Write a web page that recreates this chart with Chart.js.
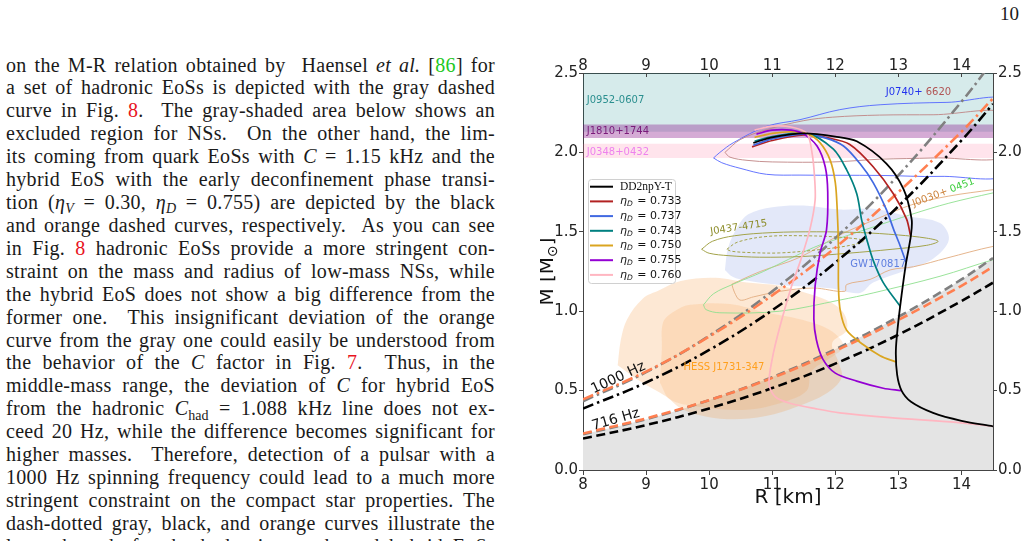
<!DOCTYPE html>
<html>
<head>
<meta charset="utf-8">
<script src="https://cdn.jsdelivr.net/npm/chart.js@4.4.1/dist/chart.umd.min.js"></script>
<style>
html, body { margin: 0; padding: 0; background: #fff; }
body { width: 1028px; height: 541px; position: relative; overflow: hidden; }
#text { position: absolute; left: 6px; top: 53.5px; width: 489px; font-family: "Liberation Serif", "DejaVu Serif", serif; font-size: 20px; letter-spacing: 0.3px; color: #1a1a1a; }
#text .ln { height: 22.93px; line-height: 22.93px; text-align: justify; text-align-last: justify; white-space: nowrap; }
#text sub { font-size: 0.7em; line-height: 0; vertical-align: baseline; position: relative; top: 0.3em; letter-spacing: 0; }
.g { color: #1ec81e; }
.r { color: #e8141e; }
#pageno { position: absolute; left: 1000px; top: 3px; font: 19px "Liberation Serif", serif; color: #1a1a1a; }
#fig { position: absolute; left: 540px; top: 48px; width: 488px; height: 493px; }
</style>
</head>
<body>
<div id="pageno">10</div>
<div id="text">
  <div class="ln">on the M-R relation obtained by&nbsp; Haensel <i>et al.</i> [<span class="g">86</span>] for</div>
  <div class="ln">a set of hadronic EoSs is depicted with the gray dashed</div>
  <div class="ln">curve in Fig. <span class="r">8</span>.&nbsp; The gray-shaded area below shows an</div>
  <div class="ln">excluded region for NSs.&nbsp; On the other hand, the lim-</div>
  <div class="ln">its coming from quark EoSs with <i>C</i> = 1.15 kHz and the</div>
  <div class="ln">hybrid EoS with the early deconfinement phase transi-</div>
  <div class="ln">tion (<i>η</i><sub><i>V</i></sub> = 0.30, <i>η</i><sub><i>D</i></sub> = 0.755) are depicted by the black</div>
  <div class="ln">and orange dashed curves, respectively.&nbsp; As you can see</div>
  <div class="ln">in Fig. <span class="r">8</span> hadronic EoSs provide a more stringent con-</div>
  <div class="ln">straint on the mass and radius of low-mass NSs, while</div>
  <div class="ln">the hybrid EoS does not show a big difference from the</div>
  <div class="ln">former one.&nbsp; This insignificant deviation of the orange</div>
  <div class="ln">curve from the gray one could easily be understood from</div>
  <div class="ln">the behavior of the <i>C</i> factor in Fig. <span class="r">7</span>.&nbsp; Thus, in the</div>
  <div class="ln">middle-mass range, the deviation of <i>C</i> for hybrid EoS</div>
  <div class="ln">from the hadronic <i>C</i><sub>had</sub> = 1.088 kHz line does not ex-</div>
  <div class="ln">ceed 20 Hz, while the difference becomes significant for</div>
  <div class="ln">higher masses.&nbsp; Therefore, detection of a pulsar with a</div>
  <div class="ln">1000 Hz spinning frequency could lead to a much more</div>
  <div class="ln">stringent constraint on the compact star properties. The</div>
  <div class="ln">dash-dotted gray, black, and orange curves illustrate the</div>
  <div class="ln">lower bounds for the hadronic, quark, and hybrid EoSs</div>
</div>
<div id="fig"><canvas id="mr"></canvas></div>

<script>
// axis ticks
const xTicks = [8, 9, 10, 11, 12, 13, 14];
const yTicks = [0, 0.5, 1.0, 1.5, 2.0, 2.5];

// pulsar mass bands [M_sun]
const bandNames = ['J0952-0607', 'J1810+1744', 'J0348+0432'];
const bandLo = [2.13, 2.09, 1.965];
const bandHi = [2.5, 2.175, 2.055];

// spin limits: mass read at these radii
const limitR = [8, 9, 10, 11, 12, 13, 14, 14.5];
const had716 = [0.225, 0.320, 0.440, 0.585, 0.760, 0.965, 1.200, 1.335];
const hyb716 = [0.230, 0.325, 0.440, 0.580, 0.750, 0.945, 1.160, 1.280];
const qrk716 = [0.198, 0.283, 0.388, 0.516, 0.670, 0.852, 1.064, 1.180];
const had1000 = [0.433, 0.616, 0.845, 1.125, 1.460, 1.856, 2.319, 2.576];
const hyb1000 = [0.445, 0.620, 0.840, 1.100, 1.400, 1.750, 2.130, 2.340];
const qrk1000 = [0.387, 0.551, 0.756, 1.006, 1.306, 1.661, 2.075, 2.305];

// M-R curves [R km, M]
const dd2npyT = [[10.70,2.060],[11.00,2.095],[11.50,2.120],[12.00,2.100],[12.34,2.070],[12.81,1.930],[13.08,1.770],[13.21,1.580],[13.20,1.480],[13.12,1.300],[13.05,1.100],[12.99,0.900],[12.96,0.750],[12.98,0.600],[13.05,0.500],[13.20,0.430],[13.55,0.360],[14.00,0.310],[14.50,0.275]];
const eta733 = [[10.68,2.035],[11.00,2.075],[11.50,2.110],[11.90,2.090],[12.23,2.050],[12.60,1.910],[12.92,1.740],[13.13,1.580],[13.19,1.480]];
const eta737 = [[10.70,2.045],[11.00,2.085],[11.50,2.115],[11.85,2.090],[12.13,2.040],[12.39,1.930],[12.60,1.810],[12.81,1.640],[12.92,1.520],[13.02,1.420],[13.12,1.310]];
const eta743 = [[10.72,2.070],[11.00,2.100],[11.55,2.120],[11.97,2.020],[12.18,1.890],[12.34,1.740],[12.42,1.570],[12.50,1.450],[12.60,1.320],[12.76,1.180],[13.03,1.030]];
const eta750 = [[10.72,2.095],[11.00,2.120],[11.30,2.130],[11.55,2.120],[11.76,2.060],[11.92,1.950],[12.00,1.810],[12.03,1.640],[12.05,1.400],[12.05,1.150],[12.08,1.000],[12.18,0.880],[12.44,0.790],[12.71,0.720],[12.96,0.680]];
const eta755 = [[10.75,2.115],[11.00,2.140],[11.30,2.140],[11.50,2.115],[11.71,2.040],[11.84,1.910],[11.88,1.750],[11.86,1.510],[11.76,1.370],[11.68,1.160],[11.66,0.950],[11.70,0.820],[11.80,0.700],[12.00,0.610],[12.34,0.560],[12.76,0.515],[13.04,0.500]];
const eta760 = [[10.72,2.140],[11.00,2.165],[11.30,2.160],[11.55,2.120],[11.63,2.000],[11.67,1.850],[11.68,1.700],[11.60,1.520],[11.45,1.320],[11.30,1.150],[11.12,0.900],[11.00,0.700],[10.95,0.540],[11.05,0.460],[11.28,0.420],[11.70,0.385],[12.07,0.360],[12.87,0.330],[13.92,0.300],[14.50,0.275]];
const etaD = ['0.733', '0.737', '0.743', '0.750', '0.755', '0.760'];

// observational contours / regions [R km, M]
const j0740Outer = [[10.07,1.965],[10.17,2.000],[10.38,2.060],[10.91,2.164],[11.44,2.206],[12.07,2.269],[12.71,2.300],[13.77,2.315],[14.80,2.315],[14.80,1.877],[13.66,1.849],[12.71,1.855],[11.44,1.857],[10.91,1.862],[10.49,1.900],[10.20,1.935],[10.07,1.965]];
const j0740Inner = [[10.25,2.000],[10.49,2.080],[10.91,2.143],[11.50,2.200],[11.96,2.222],[12.70,2.235],[13.55,2.237],[14.80,2.240],[14.80,1.985],[13.55,1.965],[12.70,1.957],[11.96,1.940],[11.00,1.940],[10.60,1.950],[10.33,1.970],[10.25,2.000]];
const j0030Tan = [[10.36,1.170],[10.81,1.250],[11.44,1.340],[12.07,1.480],[12.71,1.590],[13.21,1.670],[13.80,1.725],[14.50,1.765],[14.80,1.780],[14.80,1.420],[14.50,1.408],[13.77,1.335],[13.24,1.280],[12.87,1.260],[12.55,1.200],[12.18,1.168],[12.15,1.125],[11.65,1.146],[11.12,1.125],[10.70,1.090],[10.49,1.070],[10.40,1.120],[10.36,1.170]];
const j0030Green = [[9.91,1.040],[10.07,1.110],[10.38,1.170],[10.86,1.250],[11.65,1.400],[12.07,1.460],[12.60,1.530],[13.21,1.610],[13.80,1.680],[14.50,1.745],[14.80,1.770],[14.80,1.350],[14.50,1.324],[13.66,1.220],[12.60,1.115],[12.07,1.070],[11.12,1.000],[10.17,0.990],[9.95,1.010],[9.91,1.040]];
const j0437Outer = [[9.88,1.390],[10.05,1.440],[10.40,1.475],[11.00,1.495],[11.70,1.500],[12.40,1.495],[13.00,1.480],[13.45,1.460],[13.63,1.440],[13.45,1.415],[12.90,1.390],[12.20,1.365],[11.50,1.345],[10.80,1.340],[10.30,1.350],[10.00,1.365],[9.88,1.390]];
const j0437Inner = [[10.28,1.390],[10.45,1.435],[10.90,1.470],[11.50,1.475],[12.10,1.465],[12.45,1.445],[12.30,1.420],[11.80,1.390],[11.12,1.367],[10.60,1.370],[10.35,1.378],[10.28,1.390]];
const gw170817 = [[10.25,1.260],[10.30,1.400],[10.45,1.530],[10.62,1.610],[11.00,1.655],[11.50,1.665],[12.07,1.640],[12.60,1.645],[13.13,1.600],[13.66,1.555],[13.80,1.450],[13.55,1.330],[13.13,1.260],[12.60,1.180],[12.39,1.115],[11.92,1.145],[11.12,1.165],[10.57,1.195],[10.38,1.215],[10.25,1.260]];
const hessOuter = [[8.55,0.660],[8.60,0.820],[8.70,0.950],[8.95,1.080],[9.20,1.130],[9.55,1.190],[10.10,1.210],[10.60,1.180],[11.12,1.160],[11.50,1.120],[11.86,1.070],[12.13,0.990],[12.18,0.880],[11.95,0.800],[12.05,0.680],[12.10,0.580],[11.85,0.480],[11.40,0.400],[10.90,0.340],[10.30,0.320],[9.80,0.350],[9.54,0.390],[9.33,0.460],[8.90,0.560],[8.55,0.660]];
const hessInner = [[9.22,0.550],[9.25,0.760],[9.27,0.930],[9.45,1.000],[9.70,1.040],[10.33,1.045],[10.91,0.990],[11.44,0.950],[11.92,0.880],[12.13,0.780],[11.90,0.700],[11.62,0.620],[11.55,0.500],[11.20,0.430],[10.60,0.380],[9.80,0.400],[9.38,0.445],[9.22,0.550]];

const xy = a => a.map(p => ({ x: p[0], y: p[1] }));
const onR = m => limitR.map((r, i) => ({ x: r, y: m[i] }));

const datasets = [];
function add(ds, order) {
    datasets.push(Object.assign({ pointRadius: 0, pointHoverRadius: 0, fill: false, tension: 0.35, borderColor: 'rgba(0,0,0,0)', borderWidth: 1, order: order }, ds));
}

// shaded bands and regions (lowest layers)
const bandFill = ['rgba(0,128,128,0.16)', 'rgba(128,0,128,0.33)', 'rgba(255,105,150,0.18)'];
bandNames.forEach((n, i) => {
    add({ label: n, data: [{ x: 8, y: bandHi[i] }, { x: 14.5, y: bandHi[i] }], fill: { value: bandLo[i] }, backgroundColor: bandFill[i], tension: 0 }, 200 - i);
});
add({ label: 'excluded', data: onR(had716), fill: 'origin', backgroundColor: '#e4e4e4', tension: 0.4 }, 190);
add({ label: 'GW170817', data: xy(gw170817), fill: 'shape', backgroundColor: 'rgba(100,130,220,0.18)' }, 180);
add({ label: 'HESS outer', data: xy(hessOuter), fill: 'shape', backgroundColor: 'rgba(245,140,40,0.2)' }, 170);
add({ label: 'HESS inner', data: xy(hessInner), fill: 'shape', backgroundColor: 'rgba(245,140,40,0.15)' }, 169);

// thin contours
add({ label: 'J0740 a', data: xy(j0740Outer), borderColor: '#5566ff', borderWidth: 0.9 }, 150);
add({ label: 'J0740 b', data: xy(j0740Inner), borderColor: '#c08585', borderWidth: 0.9 }, 149);
add({ label: 'J0030 a', data: xy(j0030Tan), borderColor: '#e2ad80', borderWidth: 0.9 }, 148);
add({ label: 'J0030 b', data: xy(j0030Green), borderColor: '#8fe08f', borderWidth: 0.9 }, 147);
add({ label: 'J0437 a', data: xy(j0437Outer), borderColor: '#a3a34a', borderWidth: 1 }, 146);
add({ label: 'J0437 b', data: xy(j0437Inner), borderColor: '#a3a34a', borderWidth: 1, borderDash: [3, 2] }, 145);

// spin-frequency limits
const dashed = [9, 4.5];
const dashDot = [11, 4, 2.5, 4];
add({ label: 'had 716', data: onR(had716), borderColor: '#808080', borderWidth: 2.6, borderDash: dashed, tension: 0.4 }, 130);
add({ label: 'hyb 716', data: onR(hyb716), borderColor: '#ff7f50', borderWidth: 2.6, borderDash: dashed, tension: 0.4 }, 129);
add({ label: 'qrk 716', data: onR(qrk716), borderColor: '#000000', borderWidth: 2.6, borderDash: dashed, tension: 0.4 }, 128);
add({ label: 'had 1000', data: onR(had1000), borderColor: '#808080', borderWidth: 2.6, borderDash: dashDot, tension: 0.4 }, 127);
add({ label: 'hyb 1000', data: onR(hyb1000), borderColor: '#ff7f50', borderWidth: 2.6, borderDash: dashDot, tension: 0.4 }, 126);
add({ label: 'qrk 1000', data: onR(qrk1000), borderColor: '#000000', borderWidth: 2.6, borderDash: dashDot, tension: 0.4 }, 125);

// M-R curves
const etaCurves = [eta733, eta737, eta743, eta750, eta755, eta760];
const etaColors = ['#b22222', '#4169e1', '#008080', '#daa520', '#9400d3', '#ffb6c1'];
etaCurves.forEach((c, i) => {
    add({ label: 'eta_D = ' + etaD[i], data: xy(c), borderColor: etaColors[i], borderWidth: 1.7, tension: 0.3 }, 110 - i);
});
add({ label: 'DD2npY-T', data: xy(dd2npyT), borderColor: '#000000', borderWidth: 1.8, tension: 0.3 }, 100);

/**
 * Inward tick marks on the top axis
 */
const topTicks = {
    id: 'topTicks',
    afterDraw(chart) {
        const { ctx, chartArea: ca, scales } = chart;
        ctx.save();
        ctx.strokeStyle = '#444';
        ctx.lineWidth = 1;
        xTicks.forEach(v => {
            const px = Math.round(scales.x2.getPixelForValue(v)) + 0.5;
            ctx.beginPath();
            ctx.moveTo(px, ca.top);
            ctx.lineTo(px, ca.top + 4);
            ctx.stroke();
        });
        ctx.restore();
    }
};

/**
 * Labels, legend and axis titles
 */
const figText = {
    id: 'figText',
    afterDatasetsDraw(chart) {
        const { ctx, chartArea: ca, scales } = chart;
        const X = r => scales.x.getPixelForValue(r);
        const Y = m => scales.y.getPixelForValue(m);

        function tag(parts, r, m, rot, size, align) {
            ctx.save();
            ctx.translate(X(r), Y(m));
            ctx.rotate(-rot * Math.PI / 180);
            ctx.font = size + 'px "DejaVu Sans"';
            ctx.textBaseline = 'middle';
            let total = 0;
            parts.forEach(p => { total += ctx.measureText(p[0]).width; });
            let cx = align === 'center' ? -total / 2 : 0;
            ctx.textAlign = 'left';
            parts.forEach(p => {
                ctx.fillStyle = p[1];
                ctx.fillText(p[0], cx, 0);
                cx += ctx.measureText(p[0]).width;
            });
            ctx.restore();
        }

        tag([['J0952-0607', '#2a8f8f']], 8.06, 2.325, 0, 10, 'left');
        tag([['J1810+1744', '#7a1a7a']], 8.06, 2.13, 0, 10, 'left');
        tag([['J0348+0432', '#ee82ee']], 8.06, 1.998, 0, 10, 'left');
        tag([['J0740+ ', '#2233ee'], ['6620', '#b05555']], 12.80, 2.375, 0, 10, 'left');
        tag([['J0030+ ', '#cd853f'], ['0451', '#3ccd3c']], 13.23, 1.675, 20.5, 10, 'left');
        tag([['J0437-4715', '#8c8c28']], 10.02, 1.50, 8.5, 10, 'left');
        tag([['GW170817', '#5f7fe0']], 12.68, 1.293, 0, 10, 'center');
        tag([['HESS J1731-347', '#ffa01e']], 10.235, 0.644, 0, 10, 'center');
        tag([['1000 Hz', '#111']], 8.56, 0.58, 25, 14, 'center');
        tag([['716 Hz', '#111']], 8.52, 0.317, 16, 14, 'center');

        // legend box
        const lx = ca.left + 5, ly = ca.top + 106, lw = 87, lh = 104;
        ctx.save();
        ctx.beginPath();
        ctx.roundRect(lx + 0.5, ly + 0.5, lw, lh, 3);
        ctx.fillStyle = 'rgba(255,255,255,0.9)';
        ctx.fill();
        ctx.strokeStyle = '#d0d0d0';
        ctx.lineWidth = 1;
        ctx.stroke();
        ctx.textBaseline = 'middle';
        ctx.textAlign = 'left';
        const rowColors = ['#000000'].concat(etaColors);
        rowColors.forEach((c, i) => {
            const yy = ly + 7.7 + i * 14.7;
            ctx.strokeStyle = c;
            ctx.lineWidth = 2;
            ctx.beginPath();
            ctx.moveTo(lx + 2, yy);
            ctx.lineTo(lx + 25, yy);
            ctx.stroke();
            ctx.fillStyle = '#111';
            let tx = lx + 32;
            if (i === 0) {
                ctx.font = '11.5px "Liberation Serif"';
                ctx.fillText('DD2npY-T', tx, yy);
            } else {
                ctx.font = 'italic 11px "DejaVu Sans"';
                ctx.fillText('η', tx, yy);
                tx += ctx.measureText('η').width;
                ctx.font = 'italic 7.5px "DejaVu Sans"';
                ctx.fillText('D', tx, yy + 3);
                tx += ctx.measureText('D').width + 1;
                ctx.font = '11px "DejaVu Sans"';
                ctx.fillText(' = ' + etaD[i - 1], tx, yy);
            }
        });
        ctx.restore();

        // axis titles
        ctx.save();
        ctx.fillStyle = '#111';
        ctx.font = '20px "DejaVu Sans"';
        ctx.textAlign = 'center';
        ctx.textBaseline = 'middle';
        ctx.fillText('R [km]', (ca.left + ca.right) / 2, ca.bottom + 28);
        ctx.translate(ca.left - 35, (ca.top + ca.bottom) / 2);
        ctx.rotate(-Math.PI / 2);
        ctx.textAlign = 'left';
        const a = 'M [M', b = '⊙', c = ']';
        const wa = ctx.measureText(a).width;
        ctx.font = '14px "DejaVu Sans"';
        const wb = ctx.measureText(b).width;
        ctx.font = '20px "DejaVu Sans"';
        const wc = ctx.measureText(c).width;
        let sx = -(wa + wb + wc) / 2;
        ctx.fillText(a, sx, 0);
        sx += wa;
        ctx.font = '14px "DejaVu Sans"';
        ctx.fillText(b, sx, 5);
        sx += wb;
        ctx.font = '20px "DejaVu Sans"';
        ctx.fillText(c, sx, 0);
        ctx.restore();
    }
};

const tickFont = { family: 'DejaVu Sans', size: 15 };
function axisX(pos) {
    return {
        type: 'linear', position: pos, min: 8, max: 14.5,
        afterBuildTicks: s => { s.ticks = xTicks.map(v => ({ value: v })); },
        afterFit: s => { s.height = pos === 'bottom' ? 71 : 25; },
        ticks: { font: tickFont, color: '#222', padding: pos === 'bottom' ? 1 : -2, maxRotation: 0, autoSkip: false, callback: v => String(v) },
        grid: { drawOnChartArea: false, drawTicks: pos === 'bottom', tickLength: 5, color: '#444' },
        border: { color: '#444', width: 1 }
    };
}
function axisY(pos) {
    return {
        type: 'linear', position: pos, min: 0, max: 2.5,
        afterBuildTicks: s => { s.ticks = yTicks.map(v => ({ value: v })); },
        afterFit: s => { s.width = pos === 'left' ? 43 : 35; },
        ticks: { font: tickFont, color: '#222', padding: 1, autoSkip: false, callback: v => v.toFixed(1) },
        grid: { drawOnChartArea: false, tickLength: 4, color: '#444' },
        border: { color: '#444', width: 1 }
    };
}

new Chart(document.getElementById('mr'), {
    type: 'line',
    data: { datasets: datasets },
    options: {
        responsive: true,
        maintainAspectRatio: false,
        animation: false,
        layout: { padding: 0 },
        plugins: {
            legend: { display: false },
            tooltip: { enabled: false },
            filler: { drawTime: 'beforeDatasetsDraw', propagate: false }
        },
        scales: {
            x: axisX('bottom'),
            x2: axisX('top'),
            y: axisY('left'),
            y2: axisY('right')
        }
    },
    plugins: [figText, topTicks]
});
</script>
</body>
</html>
